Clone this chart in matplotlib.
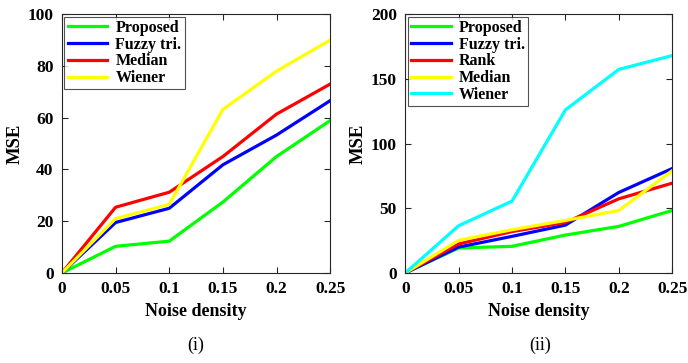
import numpy as np
import matplotlib
matplotlib.use('Agg')
import matplotlib.pyplot as plt

plt.rcParams['font.family'] = ['Liberation Serif', 'DejaVu Serif']
plt.rcParams['font.weight'] = 'bold'

noise = [0, 0.05, 0.1, 0.15, 0.2, 0.25]

# chart (i)
left_names = ['Proposed', 'Fuzzy tri.', 'Median', 'Wiener']
left_colors = ['#00ff00', '#0000ff', '#ff0000', '#ffff00']
left_proposed = [0, 10.3, 12.3, 27.4, 45.0, 58.9]
left_fuzzy = [0, 19.5, 25.0, 41.8, 53.3, 66.6]
left_median = [0, 25.4, 31.2, 45.0, 61.4, 73.0]
left_wiener = [0, 21.0, 26.5, 63.2, 78.0, 90.0]

# chart (ii)
right_names = ['Proposed', 'Fuzzy tri.', 'Rank', 'Median', 'Wiener']
right_colors = ['#00ff00', '#0000ff', '#ff0000', '#ffff00', '#00ffff']
right_proposed = [0, 19.3, 20.6, 29.3, 36.0, 48.3]
right_fuzzy = [0, 20.0, 28.3, 37.0, 62.2, 80.7]
right_rank = [0, 22.4, 32.0, 39.0, 57.3, 69.4]
right_median = [0, 25.2, 33.4, 40.6, 48.3, 79.0]
right_wiener = [0, 36.5, 55.5, 126.0, 157.3, 168.0]

fig = plt.figure(figsize=(6.88, 3.63), dpi=100)
ax1 = fig.add_axes([0.090, 0.248, 0.390, 0.713])
ax2 = fig.add_axes([0.589, 0.248, 0.388, 0.713])


def style(ax, ymax, ystep):
    ax.set_xlim(0, 0.25)
    ax.set_ylim(0, ymax)
    ax.set_xticks(noise)
    ax.set_xticklabels(['0', '0.05', '0.1', '0.15', '0.2', '0.25'])
    ax.set_yticks(np.arange(0, ymax + 1, ystep))
    ax.tick_params(direction='in', top=True, right=True, labelsize=12.5,
                   length=4, width=0.8, color='#262626', pad=6)
    for s in ax.spines.values():
        s.set_color('#262626')
        s.set_linewidth(0.8)
    ax.set_xlabel('Noise density', fontsize=13, fontweight='bold', labelpad=4)
    ax.set_ylabel('MSE', fontsize=13.5, fontweight='bold', labelpad=3)
    leg = ax.legend(loc='upper left', fontsize=11.5, frameon=True, fancybox=False,
                    edgecolor='#262626', handlelength=2.5, borderpad=0.2,
                    labelspacing=0.05, borderaxespad=0.15, handletextpad=0.5)
    leg.get_frame().set_linewidth(0.8)


for name, c, y in zip(left_names, left_colors,
                      [left_proposed, left_fuzzy, left_median, left_wiener]):
    ax1.plot(noise, y, color=c, lw=2.3, label=name)
style(ax1, 100, 20)

for name, c, y in zip(right_names, right_colors,
                      [right_proposed, right_fuzzy, right_rank, right_median, right_wiener]):
    ax2.plot(noise, y, color=c, lw=2.3, label=name)
style(ax2, 200, 50)

fig.text(0.285, 0.05, '(i)', ha='center', va='center', fontsize=13, fontweight='normal')
fig.text(0.785, 0.05, '(ii)', ha='center', va='center', fontsize=13, fontweight='normal')

fig.savefig('out.png', dpi=100)
